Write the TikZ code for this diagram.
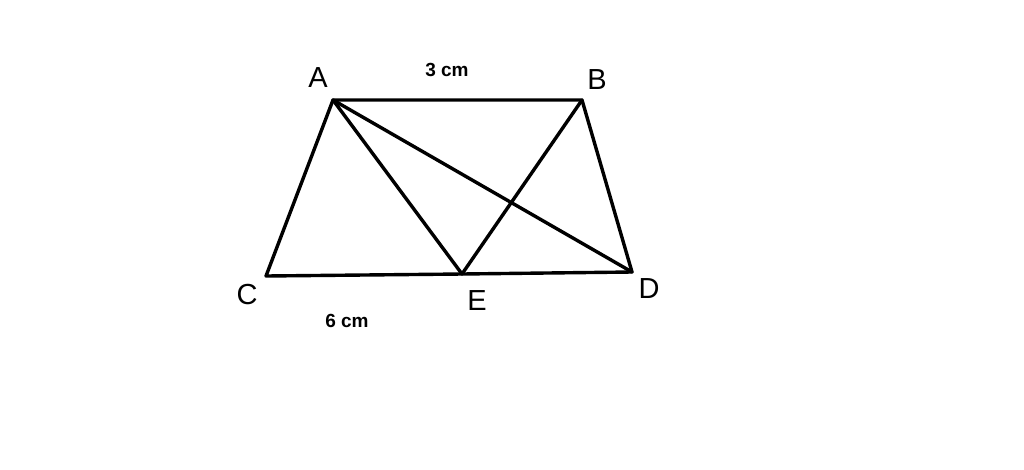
\documentclass[tikz,border=0pt]{standalone}
\usepackage{fontspec}
\setmainfont{Liberation Sans}
\begin{document}
\begin{tikzpicture}[x=1pt,y=-1pt,
  edge/.style={line width=3.4pt,line cap=round,line join=round},
  lbl/.style={inner sep=0pt,font=\fontsize{29}{29}\selectfont},
  dim/.style={inner sep=0pt,font=\bfseries\fontsize{19}{19}\selectfont}]
\useasboundingbox[fill=white] (0,0) rectangle (1024,469);
\coordinate (A) at (333,100);
\coordinate (B) at (582,100);
\coordinate (C) at (266,276);
\coordinate (E) at (462,274);
\coordinate (D) at (632,272);
\draw[edge] (A) -- (B) -- (D) -- (E) -- (C) -- cycle;
\draw[edge] (A) -- (E) -- (B);
\draw[edge] (A) -- (D);
\node[lbl] (lA) at (318,78) {A};
\node[lbl] (lB) at (597,80) {B};
\node[lbl] (lC) at (247,295) {C};
\node[lbl] (lE) at (477,301) {E};
\node[lbl] (lD) at (649,289) {D};
\node[dim] (l3) at (447,70) {3 cm};
\node[dim] (l6) at (347,321) {6 cm};
\end{tikzpicture}
\end{document}
